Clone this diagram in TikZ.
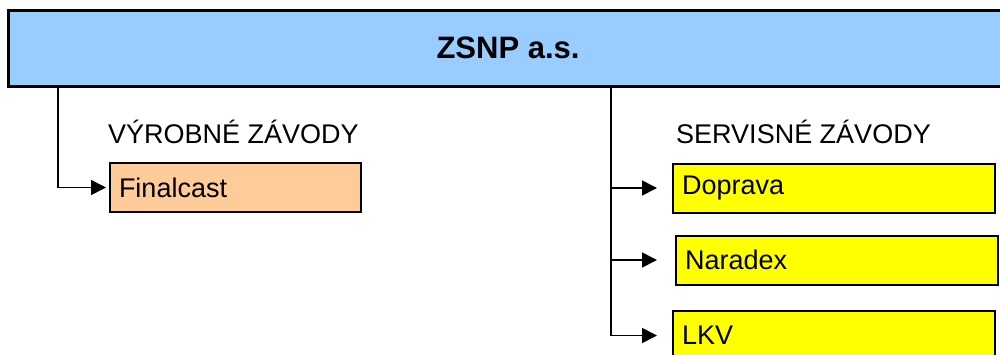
\documentclass[tikz,border=0pt]{standalone}
\usepackage{fontspec}
\setmainfont{Liberation Sans}
\usetikzlibrary{positioning,arrows.meta}

\definecolor{headblue}{HTML}{99CCFF}
\definecolor{castorange}{HTML}{FFCC99}
\definecolor{servyellow}{HTML}{FFFF00}

\tikzset{
  headbox/.style={draw, line width=3pt, fill=headblue, minimum width=1000pt,
    minimum height=76pt, font=\fontsize{31}{36}\selectfont\bfseries},
  unitbox/.style={draw, line width=2pt, minimum height=49pt, inner xsep=9pt,
    font=\fontsize{27}{32}\selectfont, align=left},
  grouplabel/.style={anchor=base west, inner sep=0pt, font=\fontsize{27}{32}\selectfont},
  conn/.style={line width=1.6pt, -{Triangle[length=15pt,width=15pt]}},
}

\begin{document}
\begin{tikzpicture}[x=1pt,y=-1pt]
  \path[use as bounding box, clip] (0,0) rectangle (1000,354);

  \node (zsnp) [headbox] at (508,48) {ZSNP a.s.};

  \node (finalcast) [unitbox, fill=castorange, text width=233pt] at (235.5,187.5) {Finalcast};
  \node (doprava) [unitbox, fill=servyellow, text width=304pt] at (834,188) {Doprava};
  \node (naradex) [unitbox, fill=servyellow, text width=304pt, below=21pt of doprava, xshift=3pt] {Naradex};
  \node (lkv) [unitbox, fill=servyellow, text width=304pt, below=24pt of naradex, xshift=-3pt, minimum height=50pt] {LKV};

  \node (vyrobne) [grouplabel] at (108,143) {VÝROBNÉ ZÁVODY};
  \node (servisne) [grouplabel] at (676,143) {SERVISNÉ ZÁVODY};

  \coordinate (ltrunk) at (58,0);
  \coordinate (rtrunk) at (611,0);

  \draw[conn, shorten >=3pt] (zsnp.south -| ltrunk) |- (finalcast.west);
  \draw[conn, shorten >=15pt] (zsnp.south -| rtrunk) |- (lkv.west);
  \draw[conn, shorten >=15pt] (rtrunk |- doprava.west) -- (doprava.west);
  \draw[conn, shorten >=18pt] (rtrunk |- naradex.west) -- (naradex.west);
\end{tikzpicture}
\end{document}
